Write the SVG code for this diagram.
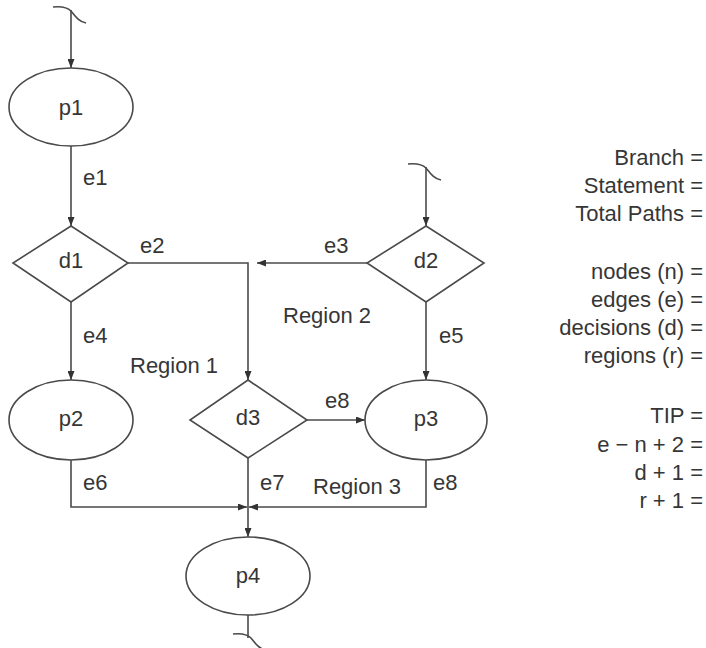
<svg xmlns="http://www.w3.org/2000/svg" width="706" height="648" viewBox="0 0 706 648">
  <style>
    .shape { fill: #ffffff; stroke: #4a4a4a; stroke-width: 1.6; }
    .wire { fill: none; stroke: #4a4a4a; stroke-width: 1.6; }
    .arrow { marker-end: url(#head); }
    text { font-family: "Liberation Sans", Arial, sans-serif; font-size: 22px; fill: #363636; }
    .mid { text-anchor: middle; }
    .end { text-anchor: end; }
  </style>
  <defs>
    <marker id="head" markerWidth="9" markerHeight="7" refX="9" refY="3.5" orient="auto" markerUnits="userSpaceOnUse">
      <path d="M0,0 L9,3.5 L0,7 z" fill="#333333"/>
    </marker>
    <!-- break mark for flow entering / leaving the fragment -->
    <path id="cut" d="M53,7 C62,6 67,7 71,11 C75,16 79,22 86,23" fill="none" stroke="#4a4a4a" stroke-width="1.6"/>
  </defs>

  <rect width="706" height="648" fill="#ffffff"/>

  <!-- connectors -->
  <g id="connectors">
    <use href="#cut"/>
    <line class="wire arrow" x1="71" y1="10" x2="71" y2="68"/>
    <line class="wire arrow" x1="71" y1="146" x2="71" y2="226"/>
    <polyline class="wire arrow" points="128,263 248,263 248,380"/>
    <line class="wire arrow" x1="367" y1="263" x2="257" y2="263"/>
    <use href="#cut" transform="translate(355,157)"/>
    <line class="wire arrow" x1="426" y1="167" x2="426" y2="226"/>
    <line class="wire arrow" x1="71" y1="302" x2="71" y2="380"/>
    <line class="wire arrow" x1="426" y1="302" x2="426" y2="380"/>
    <line class="wire arrow" x1="307" y1="420" x2="365" y2="420"/>
    <polyline class="wire arrow" points="71,460 71,507 247,507"/>
    <polyline class="wire arrow" points="426,460 426,507 249,507"/>
    <line class="wire arrow" x1="248" y1="458" x2="248" y2="537"/>
    <line class="wire" x1="248" y1="615" x2="248" y2="638"/>
    <use href="#cut" transform="translate(180,627)"/>
  </g>

  <!-- edge and region labels -->
  <g id="edge-labels">
    <text x="83" y="185">e1</text>
    <text x="140" y="253">e2</text>
    <text x="324" y="253">e3</text>
    <text x="83" y="343">e4</text>
    <text x="439" y="343">e5</text>
    <text x="325" y="408">e8</text>
    <text x="83" y="490">e6</text>
    <text x="260" y="490">e7</text>
    <text x="433" y="490">e8</text>
    <text x="130" y="373">Region 1</text>
    <text x="283" y="323">Region 2</text>
    <text x="313" y="494">Region 3</text>
  </g>

  <g id="p1">
    <ellipse class="shape" cx="71" cy="107" rx="62" ry="39"/>
    <text class="mid" x="71" y="115">p1</text>
  </g>
  <g id="d1">
    <polygon class="shape" points="71,226 128,263 71,302 13,263"/>
    <text class="mid" x="71" y="268">d1</text>
  </g>
  <g id="d2">
    <polygon class="shape" points="426,226 484,263 426,302 367,263"/>
    <text class="mid" x="426" y="268">d2</text>
  </g>
  <g id="p2">
    <ellipse class="shape" cx="71" cy="420" rx="62" ry="40"/>
    <text class="mid" x="71" y="426">p2</text>
  </g>
  <g id="d3">
    <polygon class="shape" points="248,380 307,420 248,458 190,420"/>
    <text class="mid" x="248" y="425">d3</text>
  </g>
  <g id="p3">
    <ellipse class="shape" cx="426" cy="420" rx="61" ry="40"/>
    <text class="mid" x="426" y="426">p3</text>
  </g>
  <g id="p4">
    <ellipse class="shape" cx="248" cy="576" rx="62" ry="39"/>
    <text class="mid" x="248" y="583">p4</text>
  </g>

  <!-- coverage and complexity worksheet -->
  <g id="worksheet">
    <text class="end" x="703" y="165">Branch =</text>
    <text class="end" x="703" y="193">Statement =</text>
    <text class="end" x="703" y="221">Total Paths =</text>
    <text class="end" x="703" y="279">nodes (n) =</text>
    <text class="end" x="703" y="307">edges (e) =</text>
    <text class="end" x="703" y="335">decisions (d) =</text>
    <text class="end" x="703" y="363">regions (r) =</text>
    <text class="end" x="703" y="423">TIP =</text>
    <text class="end" x="703" y="452">e − n + 2 =</text>
    <text class="end" x="703" y="480">d + 1 =</text>
    <text class="end" x="703" y="508">r + 1 =</text>
  </g>
</svg>
